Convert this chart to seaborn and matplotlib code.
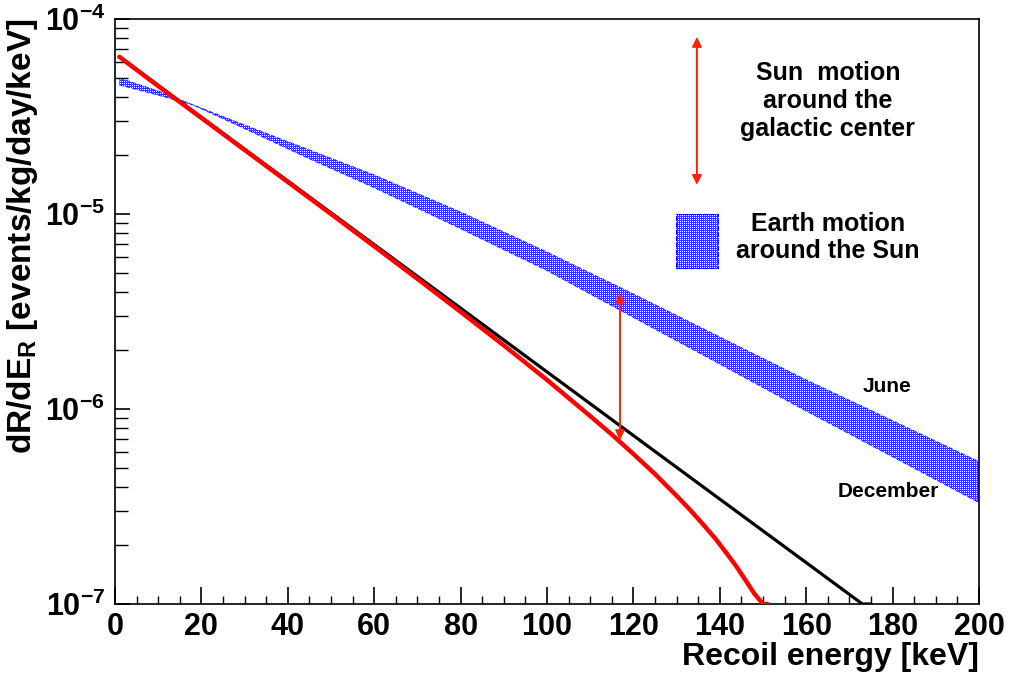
import numpy as np
import matplotlib
matplotlib.use("Agg")
import matplotlib.pyplot as plt
import seaborn as sns
from matplotlib.ticker import (LogLocator, MultipleLocator, NullFormatter,
                               LogFormatterSciNotation)
from matplotlib.patches import Rectangle

# ---- data -------------------------------------------------------------
# Standard halo model (no escape-velocity cut)
energy_black = [1, 20, 40, 60, 80, 100, 120, 140, 160, 173, 175]
rate_black = [6.4e-5, 3.13e-5, 1.476e-5, 6.97e-6, 3.29e-6, 1.55e-6,
              7.31e-7, 3.45e-7, 1.63e-7, 1.0e-7, 9.3e-8]

# With finite galactic escape velocity
energy_red = [1, 10, 20, 30, 40, 50, 60, 70, 80, 90, 100, 110, 115, 120,
              125, 130, 133, 136, 139, 142, 144, 146, 148, 150, 151]
rate_red = [6.4e-5, 4.53e-5, 3.11e-5, 2.13e-5, 1.46e-5, 1.00e-5, 6.83e-6,
            4.65e-6, 3.15e-6, 2.12e-6, 1.41e-6, 9.2e-7, 7.4e-7, 5.88e-7,
            4.64e-7, 3.59e-7, 3.06e-7, 2.58e-7, 2.16e-7, 1.77e-7, 1.54e-7,
            1.32e-7, 1.13e-7, 9.4e-8, 8.6e-8]

# Annual modulation band (June / December)
energy_band = [1, 10, 18, 30, 45, 60, 80, 100, 120, 140, 160, 180, 200]
rate_june = [4.59e-5, 4.07e-5, 3.63e-5, 2.86e-5, 2.13e-5, 1.585e-5,
             1.023e-5, 6.38e-6, 3.89e-6, 2.34e-6, 1.41e-6, 8.71e-7, 5.37e-7]
rate_december = [4.98e-5, 4.27e-5, 3.63e-5, 2.74e-5, 1.92e-5, 1.365e-5,
                 8.41e-6, 5.13e-6, 2.95e-6, 1.70e-6, 9.77e-7, 5.69e-7,
                 3.31e-7]

# Double arrows: (energy, upper rate, lower rate)
sun_arrow = (134.7, 8.09e-5, 1.41e-5)
gap_arrow = (116.9, 3.94e-6, 6.93e-7)

x_ticks = [0, 20, 40, 60, 80, 100, 120, 140, 160, 180, 200]
y_min, y_max = 1e-7, 1e-4

# ---- style ------------------------------------------------------------
sns.set_theme(style="ticks")
plt.rcParams["font.family"] = ["Liberation Sans", "DejaVu Sans"]
plt.rcParams.update({
    "font.weight": "bold",
    "text.color": "black",
    "axes.labelcolor": "black",
    "xtick.color": "black",
    "ytick.color": "black",
    "mathtext.fontset": "custom",
    "mathtext.rm": "Liberation Sans:bold",
    "mathtext.bf": "Liberation Sans:bold",
    "mathtext.it": "Liberation Sans:bold:italic",
    "mathtext.sf": "Liberation Sans:bold",
    "mathtext.default": "rm",
})

W, H = 1013, 674
fig = plt.figure(figsize=(W / 100, H / 100), dpi=100, facecolor="white")
ax = fig.add_axes([115 / W, 1 - 604 / H, 864 / W, 585 / H])
ax.set_facecolor("none")
ax.set_yscale("log")

blue = "#0000ff"
red = "#ff0000"
arrow_red = "#ff2200"


def checker_image(rgb):
    """Blue fill pattern with a regular grid of white dots."""
    yy, xx = np.mgrid[0:H, 0:W]
    img = np.ones((H, W, 4))
    mask = ~((xx % 2 == 0) & (yy % 2 == 0))
    img[mask, 0] = rgb[0]
    img[mask, 1] = rgb[1]
    img[mask, 2] = rgb[2]
    return img


# modulation band outline (pattern is clipped to this polygon)
band = ax.fill_between(energy_band, rate_june, rate_december,
                       facecolor="none", edgecolor="none", linewidth=0)
pattern = checker_image((0.2, 0.2, 1.0))
band_img = fig.figimage(pattern, 0, 0, zorder=-1, origin="lower")
band_img.set_clip_path(band.get_paths()[0], ax.transData)

for edge in (rate_june, rate_december):
    sns.lineplot(x=energy_band, y=edge, ax=ax, color=blue, lw=0.8,
                 linestyle=(0, (4, 2)), alpha=0.7, zorder=2)

# rate curves (values below the frame are held on the lower edge)
sns.lineplot(x=energy_black, y=np.maximum(rate_black, y_min), ax=ax,
             color="black", lw=2.3, zorder=3)
sns.lineplot(x=energy_red, y=np.maximum(rate_red, y_min), ax=ax,
             color=red, lw=3.2, zorder=4)

# double arrows
for ex, top, bot in (sun_arrow, gap_arrow):
    ax.annotate("", xy=(ex, top), xytext=(ex, bot),
                arrowprops=dict(arrowstyle="<|-|>", color=arrow_red, lw=1.4,
                                shrinkA=0, shrinkB=0, mutation_scale=14),
                zorder=5)

# legend box for the band
box = Rectangle((0.649, 0.574), 0.049, 0.093, transform=ax.transAxes,
                facecolor="none", edgecolor=blue, lw=0.8,
                linestyle=(0, (4, 2)), zorder=2)
ax.add_patch(box)
box_img = fig.figimage(pattern, 0, 0, zorder=-1, origin="lower")
box_img.set_clip_path(box)

# annotations
ax.text(0.825, 0.860, "Sun  motion\naround the\ngalactic center",
        transform=ax.transAxes, ha="center", va="center", fontsize=18,
        linespacing=1.2, multialignment="center")
ax.text(0.825, 0.6265, "Earth motion\naround the Sun",
        transform=ax.transAxes, ha="center", va="center", fontsize=18,
        linespacing=1.2, multialignment="center")
ax.text(0.8935, 0.3726, "June", transform=ax.transAxes, ha="center",
        va="center", fontsize=15)
ax.text(0.8947, 0.1915, "December", transform=ax.transAxes, ha="center",
        va="center", fontsize=15)

# axes
ax.set_xlim(0, 200)
ax.set_ylim(y_min, y_max)
ax.set_xticks(x_ticks)
ax.xaxis.set_minor_locator(MultipleLocator(5))
ax.yaxis.set_major_locator(LogLocator(base=10))
ax.yaxis.set_major_formatter(LogFormatterSciNotation())
ax.yaxis.set_minor_locator(LogLocator(base=10, subs=np.arange(2, 10)))
ax.yaxis.set_minor_formatter(NullFormatter())

ax.tick_params(axis="x", which="major", direction="in", length=12, width=1.2,
               labelsize=22, pad=6, top=False, color="black",
               labelcolor="black")
ax.tick_params(axis="x", which="minor", direction="in", length=6, width=1.0,
               top=False, color="black")
ax.tick_params(axis="y", which="major", direction="in", length=11, width=1.2,
               labelsize=22, pad=7, right=False, color="black",
               labelcolor="black")
ax.tick_params(axis="y", which="minor", direction="in", length=9, width=1.0,
               right=False, color="black")

for s in ax.spines.values():
    s.set_color("black")
    s.set_linewidth(1.2)

ax.set_xlabel("Recoil energy [keV]", fontsize=23, fontweight="bold",
              loc="right", color="black")
ax.xaxis.set_label_coords(1.0, -0.1165)
ax.xaxis.label.set_va("bottom")
ax.set_ylabel(r"dR/dE$_{R}$ [events/kg/day/keV]", fontsize=24,
              fontweight="bold", loc="top", color="black")
ax.yaxis.set_label_coords(-0.087, 1.0)

fig.savefig("out.png", dpi=100, facecolor="white")
